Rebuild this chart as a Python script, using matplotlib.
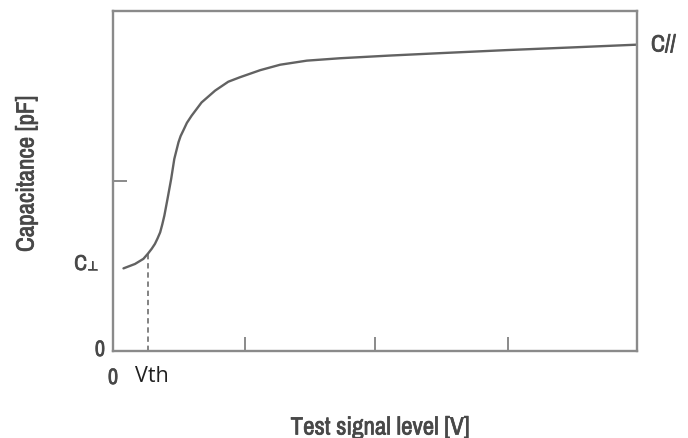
import matplotlib
matplotlib.use("Agg")
import matplotlib.pyplot as plt
from matplotlib import font_manager
import matplotlib.patheffects as pe

# --- Curve data (arbitrary units, axes span 0..10 on both) ---
signal_level = [0.20, 0.42, 0.58, 0.67, 0.74, 0.80, 0.85, 0.90, 0.94, 0.98,
                1.04, 1.11, 1.17, 1.25, 1.29, 1.34, 1.41, 1.50, 1.69, 1.95,
                2.20, 2.42, 2.81, 3.19, 3.70, 4.33, 5.29, 6.24, 7.51, 8.78,
                10.0]
capacitance = [2.43, 2.56, 2.71, 2.87, 3.01, 3.15, 3.31, 3.49, 3.72, 3.98,
               4.47, 5.06, 5.65, 6.14, 6.32, 6.48, 6.71, 6.92, 7.31, 7.66,
               7.92, 8.05, 8.26, 8.42, 8.54, 8.61, 8.69, 8.76, 8.85, 8.93,
               9.01]

V_TH = 0.67
C_VTH = 2.87
X_TICKS = [2.52, 5.0, 7.54]
Y_TICKS = [5.0]

W, H = 688, 439
GRAY = "#8a8a8a"
CURVE = "#626262"
TEXT = "#484848"

# look for a narrow face, like the Arial Narrow of the original
narrow = "DejaVu Sans"
for f in font_manager.fontManager.ttflist:
    if "Narrow" in f.name or "Condensed" in f.name:
        narrow = f.name
        break
plt.rcParams["font.family"] = [narrow, "DejaVu Sans"]


def px(x, y):
    # pixel position (from top-left) -> figure fraction
    return x / W, 1 - y / H


fig = plt.figure(figsize=(W / 100, H / 100), dpi=100)
# axes box: x 113..637, y 12..352 px
ax = fig.add_axes([113 / W, 1 - 352 / H, 524 / W, 340 / H])

ax.plot(signal_level, capacitance, color=CURVE, lw=1.7,
        solid_capstyle="round", solid_joinstyle="round")
ax.plot([V_TH, V_TH], [0, C_VTH], color=CURVE, lw=1.1, ls=(0, (3.5, 2.5)))

ax.set_xlim(0, 10)
ax.set_ylim(0, 10)
for s in ax.spines.values():
    s.set_color(GRAY)
    s.set_linewidth(1.7)

ax.set_xticks(X_TICKS)
ax.set_yticks(Y_TICKS)
ax.tick_params(direction="in", length=10, width=1.4, color=GRAY,
               labelbottom=False, labelleft=False)

# --- text --- (the narrow face has no bold, so thicken it with a stroke)
heavy = [pe.withStroke(linewidth=0.5, foreground=TEXT)]
lab = dict(color=TEXT, path_effects=heavy)
fig.text(*px(105, 351), "0", ha="right", va="center", fontsize=16, **lab)
fig.text(*px(113, 379), "0", ha="center", va="center", fontsize=16, **lab)
fig.text(*px(135, 377), "Vth", ha="left", va="center", fontsize=15.5,
         color="#202020", family=["Open Sans", "DejaVu Sans"])
fig.text(*px(87, 271), "C", ha="right", va="baseline", fontsize=15.5, **lab)
fig.text(*px(87, 271), "\u22a5", ha="left", va="baseline", fontsize=9,
         color=TEXT, family=["DejaVu Sans"],
         path_effects=[pe.withStroke(linewidth=0.4, foreground=TEXT)])
fig.text(*px(651, 46), "C//", ha="left", va="center", fontsize=17, **lab)

fig.text(*px(380, 428), "Test signal level [V]", ha="center", va="center",
         fontsize=18, **lab)
fig.text(*px(26, 175), "Capacitance [pF]", ha="center", va="center",
         rotation=90, fontsize=18, **lab)

fig.savefig("out.png", dpi=100, facecolor="white")
